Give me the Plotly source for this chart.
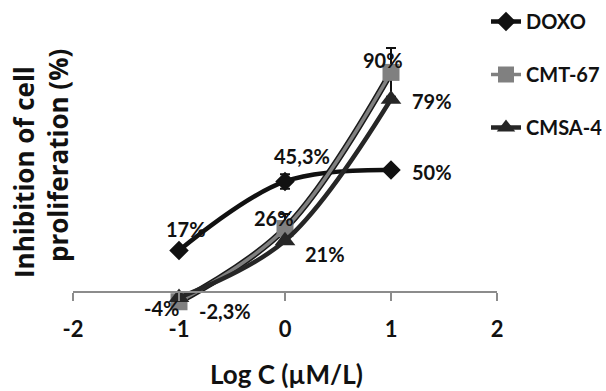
import plotly.graph_objects as go

# ---- data ----
log_c = [-1, 0, 1]
doxo = [17, 45.3, 50]
cmt67 = [-4, 26, 90]
cmsa4 = [-2.3, 21, 79]
doxo_err = [0, 3, 0]
cmt67_err = [0, 6, 10]
cmsa4_err = [0, 0, 0]
doxo_labels = ["17%", "45,3%", "50%"]
cmt67_labels = ["-4%", "26%", "90%"]
cmsa4_labels = ["-2,3%", "21%", "79%"]
x_ticks = [-2, -1, 0, 1, 2]

# ---- styling ----
LBL_FONT = "Lato, Open Sans, sans-serif"
TITLE_FONT = "Open Sans, DejaVu Sans, sans-serif"
Y0, Y1 = -9.84, 103.28

fig = go.Figure()

# dark outline beneath the grey CMT-67 line
fig.add_trace(go.Scatter(x=log_c, y=cmt67, mode="lines", showlegend=False,
                         line=dict(color="#1a1a1a", width=6.5, shape="spline"),
                         hoverinfo="skip"))

series = [
    ("DOXO", doxo, doxo_err, "#111111", "diamond", 15, 4.5),
    ("CMT-67", cmt67, cmt67_err, "#808080", "square", 17, 3.5),
    ("CMSA-4", cmsa4, cmsa4_err, "#262626", "triangle-up", 18, 4.5),
]
for i, (name, ys, err, col, sym, msize, lw) in enumerate(series):
    fig.add_trace(go.Scatter(
        x=log_c, y=ys, name=name, mode="lines+markers",
        legendgroup=name,
        line=dict(color=col, width=lw, shape="spline", smoothing=1),
        marker=dict(symbol=sym, size=msize, color=col, line=dict(width=0)),
        error_y=dict(type="data", array=err, color="#111111", thickness=2, width=5, visible=True),
        cliponaxis=False,
    ))

# data labels (offsets in px)
label_sets = [
    (doxo, doxo_labels, [(7, 22), (17, 25), (41, -2)]),
    (cmt67, cmt67_labels, [(-18, -6), (-11, 11), (-8, 12)]),
    (cmsa4, cmsa4_labels, [(46, -13), (40, -13), (41, -2)]),
]
for ys, texts, offs in label_sets:
    for xv, yv, t, (dx, dy) in zip(log_c, ys, texts, offs):
        fig.add_annotation(x=xv, y=yv, text=t, showarrow=False,
                           xshift=dx, yshift=dy,
                           font=dict(family=LBL_FONT, size=20, color="#111111", weight="bold"))

# axis titles
fig.add_annotation(xref="paper", yref="paper", x=(286 - 73) / 424, y=(316 - 374) / 276,
                   xanchor="center", yanchor="middle",
                   text="Log C (µM/L)", showarrow=False,
                   font=dict(family=LBL_FONT, size=26, color="#111111", weight="bold"))
fig.add_annotation(xref="paper", yref="paper", x=(24 - 73) / 424, y=(316 - 172) / 276,
                   xanchor="center", yanchor="middle",
                   text="Inhibition of cell", showarrow=False, textangle=-90,
                   font=dict(family=TITLE_FONT, size=26, color="#111111", weight="bold"))
fig.add_annotation(xref="paper", yref="paper", x=(58 - 73) / 424, y=(316 - 156) / 276,
                   xanchor="center", yanchor="middle",
                   text="proliferation (%)", showarrow=False, textangle=-90,
                   font=dict(family=TITLE_FONT, size=26, color="#111111", weight="bold"))

fig.update_layout(
    width=606, height=391,
    margin=dict(l=73, r=109, t=40, b=75, autoexpand=False),
    plot_bgcolor="white", paper_bgcolor="white",
    showlegend=True,
    legend=dict(x=(486 - 73) / 424, y=(316 - 2) / 276, xanchor="left", yanchor="top",
                font=dict(family=LBL_FONT, size=20, color="#111111", weight="bold"),
                tracegroupgap=24, bgcolor="rgba(0,0,0,0)"),
    xaxis=dict(range=[-2, 2], tickvals=x_ticks, ticktext=[str(v) for v in x_ticks],
               showgrid=False, zeroline=False, showline=True, linecolor="#8c8c8c", linewidth=2,
               ticks="outside", ticklen=8, tickcolor="#8c8c8c", tickwidth=2,
               anchor="free", position=-Y0 / (Y1 - Y0), ticklabelstandoff=10,
               tickfont=dict(family=LBL_FONT, size=22, color="#111111", weight="bold")),
    yaxis=dict(range=[Y0, Y1], showgrid=False, zeroline=False, showline=False,
               showticklabels=False, ticks=""),
)

fig.write_html("out.html", config={"displayModeBar": False},
               post_script="document.body.style.margin='0';document.body.style.overflow='hidden';")
